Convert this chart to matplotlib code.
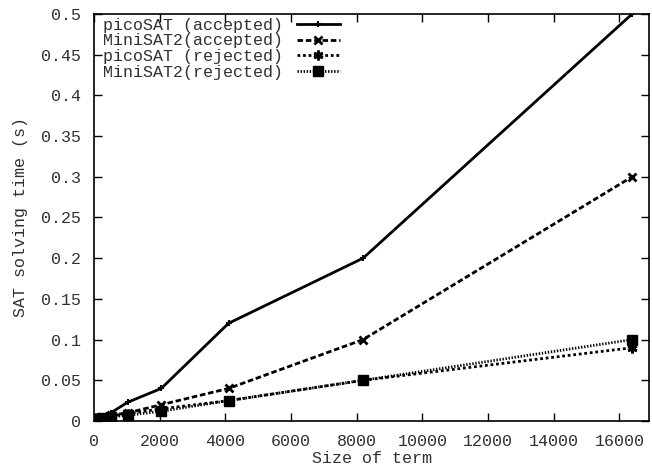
import matplotlib
matplotlib.use("Agg")
import matplotlib.pyplot as plt
from matplotlib.ticker import MultipleLocator, FuncFormatter

sizes = [16, 32, 64, 128, 256, 512, 1024, 2048, 4096, 8192, 16384]
pico_acc = [0.002, 0.003, 0.003, 0.004, 0.006, 0.010, 0.023, 0.040, 0.120, 0.200, 0.500]
mini_acc = [0.002, 0.002, 0.003, 0.004, 0.005, 0.007, 0.010, 0.020, 0.040, 0.100, 0.300]
pico_rej = [0.002, 0.002, 0.003, 0.003, 0.004, 0.006, 0.009, 0.015, 0.025, 0.050, 0.090]
mini_rej = [0.002, 0.002, 0.002, 0.003, 0.004, 0.005, 0.007, 0.012, 0.025, 0.050, 0.100]
labels = ["picoSAT (accepted)", "MiniSAT2(accepted)", "picoSAT (rejected)", "MiniSAT2(rejected)"]

txt = '#303030'
plt.rcParams['font.family'] = ['Liberation Mono', 'DejaVu Sans Mono']
plt.rcParams['font.size'] = 12
plt.rcParams['text.color'] = txt
plt.rcParams['axes.labelcolor'] = txt
plt.rcParams['xtick.labelcolor'] = txt
plt.rcParams['ytick.labelcolor'] = txt

fig = plt.figure(figsize=(6.52, 4.72), dpi=100)
ax = fig.add_axes([94/652, 1-421/472, (649-94)/652, (421-14)/472])

ax.plot(sizes, pico_acc, color='black', lw=2.0, ls='-', marker='+', ms=5, mew=1.5, label=labels[0])
ax.plot(sizes, mini_acc, color='black', lw=2.0, ls=(0, (2.0, 1.0)), marker='x', ms=6, mew=2.0, label=labels[1])
ax.plot(sizes, pico_rej, color='black', lw=2.0, ls=(0, (1.0, 1.0)), marker=(6, 2, 0), ms=7, mew=2.0, label=labels[2])
ax.plot(sizes, mini_rej, color='black', lw=2.0, ls=(0, (0.5, 0.6)), marker='s', ms=7, mew=1, label=labels[3])

ax.set_xlim(0, 16900)
ax.set_ylim(0, 0.5)
ax.xaxis.set_major_locator(MultipleLocator(2000))
ax.yaxis.set_major_locator(MultipleLocator(0.05))
ax.yaxis.set_major_formatter(FuncFormatter(lambda v, p: "0" if abs(v) < 1e-9 else ("%.2f" % v).rstrip('0')))
ax.tick_params(direction='in', length=6, width=1, top=True, right=True, labelsize=12, color='black')
ax.tick_params(axis='y', pad=9)
ax.tick_params(axis='x', pad=9)
for s in ax.spines.values():
    s.set_linewidth(1.2)

ax.set_xlabel("Size of term", fontsize=12, labelpad=2)
ax.set_ylabel("SAT solving time (s)", fontsize=12, labelpad=10)

leg = ax.legend(loc='upper left', markerfirst=False, frameon=False, handlelength=2.6,
                handletextpad=0.8, labelspacing=0.05, borderaxespad=0.3, fontsize=12,
                bbox_to_anchor=(-0.004, 1.02))
fig.savefig("out.png", dpi=100)
